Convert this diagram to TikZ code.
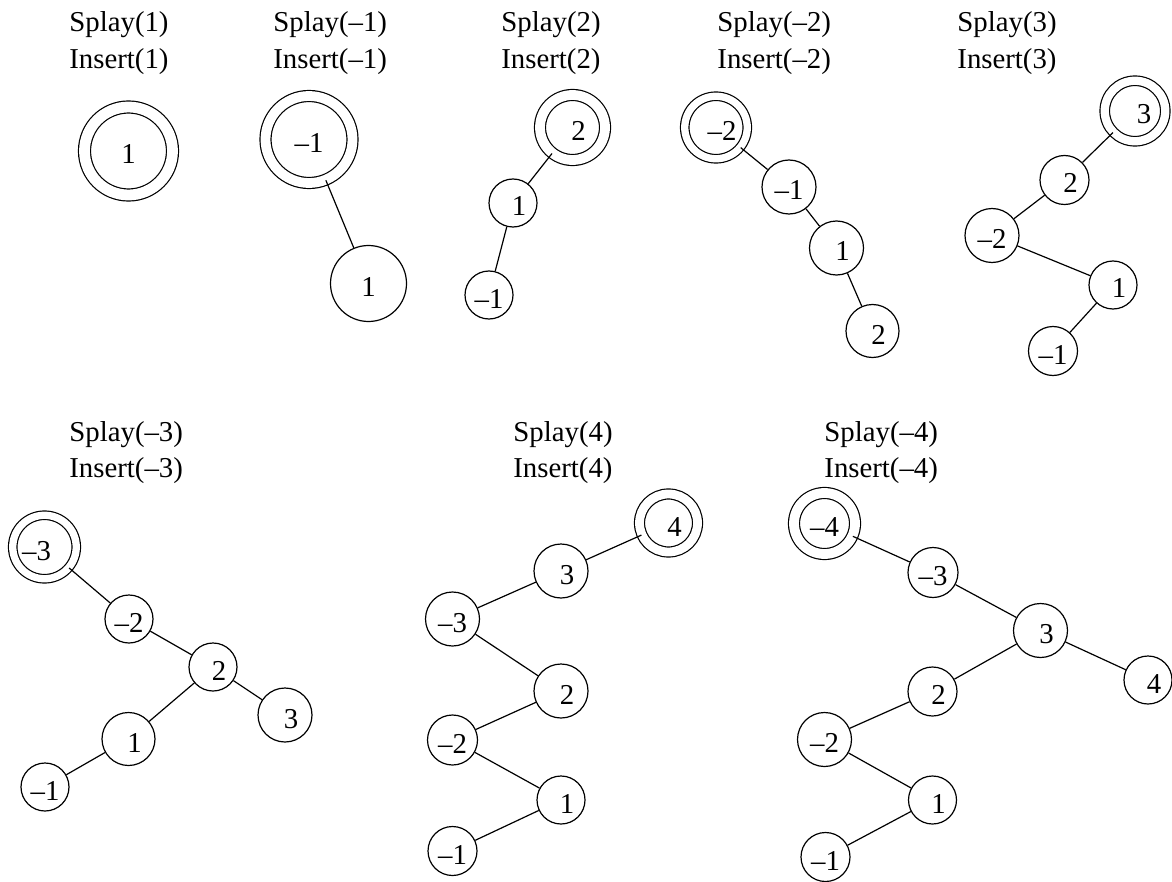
\documentclass[tikz,border=0pt]{standalone}
\usepackage{fontspec}
\setmainfont{Liberation Serif}
\tikzset{
  every node/.style={font=\fontsize{14.4}{18}\selectfont},
  title/.style={anchor=base west, inner sep=0pt},
  key/.style={circle, draw, line width=0.6pt, inner sep=0pt,
              minimum size=#1*1pt, text height=13pt, text depth=0pt},
  root/.style 2 args={circle, draw, double, line width=0.6pt,
              double distance=#2, inner sep=0pt, minimum size=#1,
              text height=13pt, text depth=0pt},
  pn/.style={execute at begin node={\hspace*{6pt}}},
  ln/.style={execute at end node={\hspace*{8pt}}},
  edge/.style={line width=0.6pt}
}
\begin{document}
\begin{tikzpicture}[x=0.5pt, y=-0.5pt]
\useasboundingbox (0,0) rectangle (1172,882);

% ---- operation captions ----
\node[title] (s1) at (69,32)  {Splay(1)};
\node[title] (i1) at (69,69)  {Insert(1)};
\node[title] (s2) at (273,32) {Splay(–1)};
\node[title] (i2) at (273,69) {Insert(–1)};
\node[title] (s3) at (501,32) {Splay(2)};
\node[title] (i3) at (501,69) {Insert(2)};
\node[title] (s4) at (717,32) {Splay(–2)};
\node[title] (i4) at (717,69) {Insert(–2)};
\node[title] (s5) at (957,32) {Splay(3)};
\node[title] (i5) at (957,69) {Insert(3)};
\node[title] (s6) at (69,441)  {Splay(–3)};
\node[title] (i6) at (69,477)  {Insert(–3)};
\node[title] (s7) at (513,441) {Splay(4)};
\node[title] (i7) at (513,477) {Insert(4)};
\node[title] (s8) at (824,441) {Splay(–4)};
\node[title] (i8) at (824,477) {Insert(–4)};

% ---- tree 1 ----
\node[root={44pt}{5.4pt}] (p1a) at (128.5,151) {1};

% ---- tree 2 ----
\node[root={43.5pt}{4.9pt}] (p2a) at (309,139.5) {–1};
\node[key=38] (p2b) at (368.5,283.5) {1};
\draw[edge] (p2a) -- (p2b);

% ---- tree 3 ----
\node[root={32.5pt}{4.9pt}, pn] (p3a) at (572.5,127.5) {2};
\node[key=24, pn] (p3b) at (513,203) {1};
\node[key=24] (p3c) at (489,295) {–1};
\draw[edge] (p3a) -- (p3b);
\draw[edge] (p3b) -- (p3c);

% ---- tree 4 ----
\node[root={31.25pt}{3.65pt}, pn] (p4a) at (716,127.5) {–2};
\node[key=27] (p4b) at (789,187) {–1};
\node[key=27, pn] (p4c) at (836.5,248) {1};
\node[key=26.5, pn] (p4d) at (872.5,331) {2};
\draw[edge] (p4a) -- (p4b);
\draw[edge] (p4b) -- (p4c);
\draw[edge] (p4c) -- (p4d);

% ---- tree 5 ----
\node[root={30.25pt}{4.15pt}, pn, execute at begin node={\hspace*{3pt}}] (p5a) at (1135,111) {3};
\node[key=24.5, pn] (p5b) at (1064.5,180) {2};
\node[key=27] (p5c) at (992,235.5) {–2};
\node[key=24, pn] (p5d) at (1113,285) {1};
\node[key=24.5] (p5e) at (1053,351) {–1};
\draw[edge] (p5a) -- (p5b);
\draw[edge] (p5b) -- (p5c);
\draw[edge] (p5c) -- (p5d);
\draw[edge] (p5d) -- (p5e);

% ---- tree 6 ----
\node[root={31.75pt}{3.65pt}, ln] (p6a) at (44.5,547) {–3};
\node[key=24] (p6b) at (129,619) {–2};
\node[key=24, pn] (p6c) at (213,667) {2};
\node[key=27, pn] (p6d) at (285,715) {3};
\node[key=26.5, pn] (p6e) at (128.5,739) {1};
\node[key=24] (p6f) at (45,787) {–1};
\draw[edge] (p6a) -- (p6b);
\draw[edge] (p6b) -- (p6c);
\draw[edge] (p6c) -- (p6d);
\draw[edge] (p6c) -- (p6e);
\draw[edge] (p6e) -- (p6f);

% ---- tree 7 ----
\node[root={29pt}{4.4pt}, pn] (p7a) at (668.5,523) {4};
\node[key=27, pn] (p7b) at (561,571) {3};
\node[key=27] (p7c) at (452.5,619) {–3};
\node[key=27, pn] (p7d) at (561,691) {2};
\node[key=25] (p7e) at (452.5,740) {–2};
\node[key=24, pn] (p7f) at (561,800) {1};
\node[key=24.5] (p7g) at (452.5,851) {–1};
\draw[edge] (p7a) -- (p7b);
\draw[edge] (p7b) -- (p7c);
\draw[edge] (p7c) -- (p7d);
\draw[edge] (p7d) -- (p7e);
\draw[edge] (p7e) -- (p7f);
\draw[edge] (p7f) -- (p7g);

% ---- tree 8 ----
\node[root={30.5pt}{4.9pt}] (p8a) at (824.5,523.5) {–4};
\node[key=25] (p8b) at (933,572.5) {–3};
\node[key=27, pn] (p8c) at (1040.5,630.5) {3};
\node[key=24, pn] (p8d) at (1148,680) {4};
\node[key=24.5, pn] (p8e) at (932.5,691.5) {2};
\node[key=27] (p8f) at (824.5,739.5) {–2};
\node[key=24, pn] (p8g) at (932.5,800) {1};
\node[key=24.5] (p8h) at (825.5,857) {–1};
\draw[edge] (p8a) -- (p8b);
\draw[edge] (p8b) -- (p8c);
\draw[edge] (p8c) -- (p8d);
\draw[edge] (p8c) -- (p8e);
\draw[edge] (p8e) -- (p8f);
\draw[edge] (p8f) -- (p8g);
\draw[edge] (p8g) -- (p8h);
\end{tikzpicture}
\end{document}
